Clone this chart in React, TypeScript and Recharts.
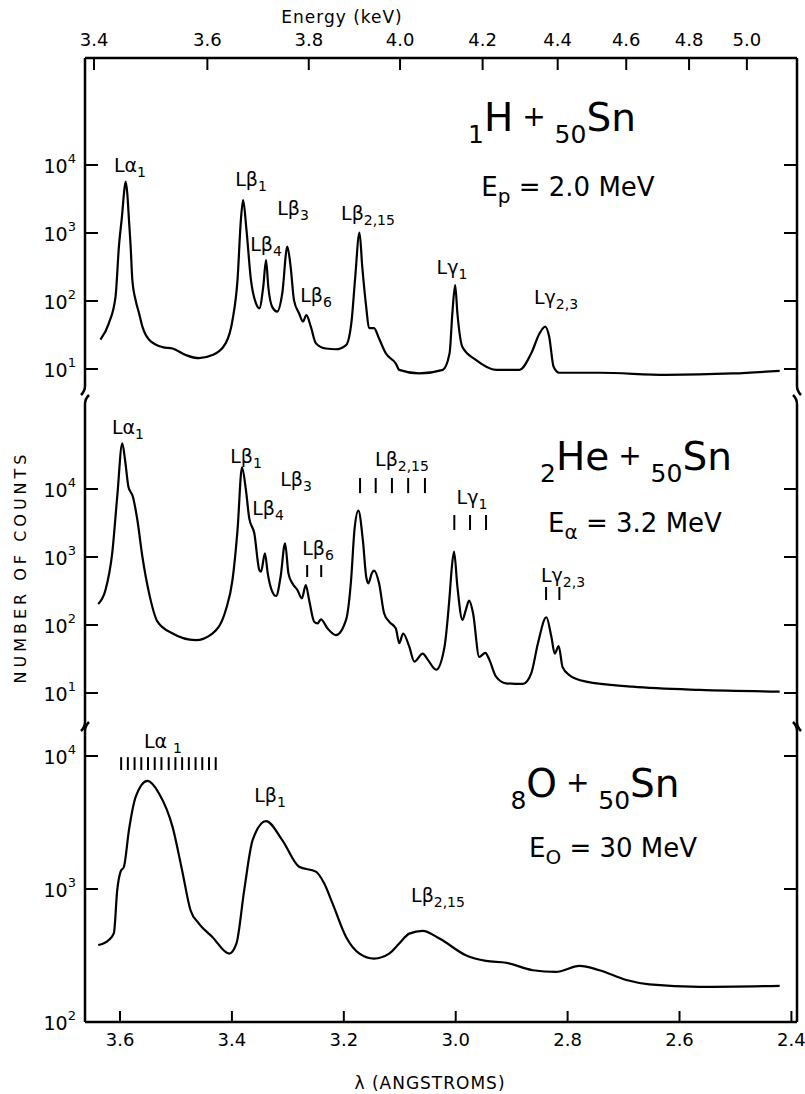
import React from "react";
import { LineChart, Line, XAxis, YAxis, ReferenceLine } from "recharts";

const FONT = "DejaVu Sans, sans-serif";
const HC = 12.398; // keV * angstrom

// x axis: wavelength in angstroms, drawn right-to-left
const lambdaDomain = [2.39, 3.6626];
const lambdaTicks = [3.6, 3.4, 3.2, 3.0, 2.8, 2.6, 2.4];
const energyTicks = [3.4, 3.6, 3.8, 4.0, 4.2, 4.4, 4.6, 4.8, 5.0];
const decadeTicks = [10, 100, 1000, 10000];
const oDecadeTicks = [100, 1000, 10000];

// 1H + 50Sn, Ep = 2.0 MeV
const hLambda = [3.635, 3.62, 3.608, 3.602, 3.596, 3.593, 3.59, 3.587, 3.584, 3.581, 3.578, 3.572, 3.566, 3.56, 3.548, 3.524, 3.506, 3.482, 3.459, 3.435, 3.411, 3.399, 3.39, 3.384, 3.38, 3.374, 3.366, 3.357, 3.351, 3.344, 3.339, 3.335, 3.328, 3.319, 3.31, 3.301, 3.295, 3.289, 3.28, 3.273, 3.267, 3.259, 3.25, 3.232, 3.214, 3.196, 3.186, 3.18, 3.172, 3.167, 3.16, 3.155, 3.146, 3.137, 3.125, 3.107, 3.101, 3.065, 3.023, 3.011, 3.006, 3.001, 2.997, 2.988, 2.964, 2.928, 2.886, 2.865, 2.85, 2.84, 2.833, 2.825, 2.815, 2.743, 2.624, 2.505, 2.421];
const hCounts = [27, 47, 116, 630, 1950, 3800, 5700, 3800, 1550, 630, 204, 102, 66, 42, 27, 21, 20, 16, 14.4, 16, 24, 52, 204, 1550, 3050, 1110, 204, 92, 78, 162, 400, 162, 82, 70, 130, 630, 316, 102, 66, 50, 62, 42, 24, 20, 19.5, 22.5, 52, 204, 1010, 316, 82, 40, 40, 28, 17, 12, 9.7, 8.6, 9.7, 17, 66, 172, 66, 21, 13.6, 9.7, 9.7, 17, 33.5, 42, 30, 10.8, 8.8, 8.8, 8.2, 8.6, 9.4];

// 2He + 50Sn, Ea = 3.2 MeV
const heLambda = [3.639, 3.626, 3.614, 3.605, 3.596, 3.591, 3.585, 3.577, 3.569, 3.56, 3.548, 3.533, 3.506, 3.465, 3.435, 3.411, 3.399, 3.39, 3.382, 3.375, 3.369, 3.36, 3.351, 3.348, 3.341, 3.336, 3.329, 3.321, 3.313, 3.305, 3.299, 3.292, 3.283, 3.275, 3.268, 3.262, 3.253, 3.247, 3.241, 3.229, 3.214, 3.196, 3.187, 3.181, 3.174, 3.166, 3.16, 3.156, 3.15, 3.146, 3.137, 3.128, 3.119, 3.107, 3.101, 3.094, 3.083, 3.074, 3.059, 3.05, 3.035, 3.02, 3.011, 3.007, 3.003, 2.997, 2.988, 2.982, 2.976, 2.969, 2.958, 2.947, 2.94, 2.928, 2.91, 2.88, 2.865, 2.853, 2.838, 2.829, 2.823, 2.816, 2.809, 2.797, 2.767, 2.684, 2.564, 2.421];
const heCounts = [204, 327, 1130, 7700, 47000, 26700, 10800, 7700, 3500, 1010, 292, 112, 75, 60, 75, 166, 459, 2490, 20800, 9700, 3700, 2230, 644, 608, 1130, 575, 327, 267, 513, 1590, 575, 410, 327, 247, 387, 233, 112, 106, 121, 89, 71, 119, 459, 2490, 4800, 1780, 513, 410, 575, 630, 410, 149, 112, 89, 54, 75, 48, 29, 38, 31, 22, 48, 261, 700, 1200, 366, 119, 166, 228, 149, 34, 39, 31, 17.4, 13.9, 13.6, 19.5, 54, 130, 67, 38, 49, 24, 18.4, 14.7, 12.4, 11.1, 10.5];

// 8O + 50Sn, Eo = 30 MeV
const oLambda = [3.639, 3.62, 3.611, 3.605, 3.599, 3.593, 3.584, 3.572, 3.551, 3.53, 3.506, 3.489, 3.474, 3.459, 3.435, 3.405, 3.392, 3.378, 3.363, 3.339, 3.31, 3.28, 3.25, 3.235, 3.22, 3.196, 3.172, 3.146, 3.119, 3.101, 3.083, 3.059, 3.029, 2.982, 2.946, 2.91, 2.862, 2.821, 2.779, 2.743, 2.695, 2.654, 2.564, 2.421];
const oCounts = [379, 414, 465, 980, 1350, 1470, 2780, 4920, 6500, 5210, 2920, 1380, 692, 550, 436, 327, 389, 982, 2330, 3240, 2330, 1470, 1350, 1100, 776, 436, 327, 300, 327, 389, 462, 484, 424, 318, 288, 279, 245, 238, 264, 245, 207, 192, 184, 187];

// line-position markers (wavelength) and their count range [top, bottom]
const heLb6Marks = [3.2655, 3.2404];
const heLb6Span = [762, 508];
const heLb215Marks = [3.171, 3.143, 3.114, 3.085, 3.055];
const heLb215Span = [14500, 8700];
const heLg1Marks = [3.0025, 2.9744, 2.9458];
const heLg1Span = [4150, 2500];
const heLg23Marks = [2.8385, 2.8147];
const heLg23Span = [362, 233];
const oLa1Marks = [3.598, 3.586, 3.574, 3.562, 3.55, 3.538, 3.526, 3.513, 3.501, 3.489, 3.477, 3.465, 3.453, 3.441, 3.429];
const oLa1Span = [9800, 7850];

const toRows = (ls: number[], cs: number[]) => ls.map((l, i) => ({ l, c: cs[i] }));
const hRows = toRows(hLambda, hCounts);
const heRows = toRows(heLambda, heCounts);
const oRows = toRows(oLambda, oCounts);

const AXIS = { stroke: "#000", strokeWidth: 2.5 };

const LeftTick = (props: any) => {
  const { x, y, payload } = props;
  const exp = Math.round(Math.log10(payload.value));
  return (
    <g>
      <line x1={x} y1={y} x2={x + 13} y2={y} stroke="#000" strokeWidth={2} />
      <text x={x - 9} y={y + 8} textAnchor="end" fontSize={19} fontFamily={FONT} fill="#000">
        10
        <tspan dy={-10} fontSize={13}>
          {exp}
        </tspan>
      </text>
    </g>
  );
};

const RightTick = (props: any) => {
  const { x, y } = props;
  return <line x1={x - 13} y1={y} x2={x} y2={y} stroke="#000" strokeWidth={2} />;
};

const BottomTick = (props: any) => {
  const { x, y, payload } = props;
  return (
    <g>
      <line x1={x} y1={y} x2={x} y2={y - 11} stroke="#000" strokeWidth={2} />
      <text x={x} y={y + 24} textAnchor="middle" fontSize={18} fontFamily={FONT} fill="#000">
        {Number(payload.value).toFixed(1)}
      </text>
    </g>
  );
};

const TopTick = (props: any) => {
  const { x, y, payload } = props;
  return (
    <g>
      <line x1={x} y1={y} x2={x} y2={y + 12} stroke="#000" strokeWidth={2} />
      <text x={x} y={y - 12} textAnchor="middle" fontSize={18} fontFamily={FONT} fill="#000">
        {(HC / payload.value).toFixed(1)}
      </text>
    </g>
  );
};

const yAxes = (domain: number[], ticks: number[]) => [
  <YAxis key="yl" yAxisId="l" orientation="left" width={85} scale="log" type="number" domain={domain} allowDataOverflow ticks={ticks} interval={0} tick={LeftTick} tickLine={false} tickSize={0} tickMargin={0} axisLine={AXIS} />,
  <YAxis key="yr" yAxisId="r" orientation="right" width={8} scale="log" type="number" domain={domain} allowDataOverflow ticks={ticks} interval={0} tick={RightTick} tickLine={false} tickSize={0} tickMargin={0} axisLine={AXIS} />,
];

const marks = (ls: number[], span: number[], key: string) =>
  ls.map((l, i) => (
    <ReferenceLine
      key={`${key}-${i}`}
      yAxisId="l"
      segment={[{ x: l, y: span[0] }, { x: l, y: span[1] }]}
      stroke="#000"
      strokeWidth={2}
    />
  ));

const spectrum = (
  <Line yAxisId="l" type="monotone" dataKey="c" stroke="#000" strokeWidth={2.2} dot={false} isAnimationActive={false} />
);

const Lbl = ({ x, y, main, sub }: { x: number; y: number; main: string; sub: string }) => (
  <text x={x} y={y} textAnchor="middle" fontSize={19} fontFamily={FONT} fill="#000">
    {main}
    <tspan fontSize={14} dy={5}>
      {sub}
    </tspan>
  </text>
);

const Title = ({ x, y, a, an, b }: { x: number; y: number; a: string; an: string; b: string }) => (
  <text x={x} y={y} textAnchor="middle" fontSize={39} fontFamily={FONT} fill="#000">
    <tspan fontSize={25} dy={12}>{an}</tspan>
    <tspan dy={-12}>{a}</tspan>
    <tspan fontSize={28} dy={-5}>{" + "}</tspan>
    <tspan fontSize={25} dy={17}>50</tspan>
    <tspan dy={-12}>{b}</tspan>
  </text>
);

const Energy = ({ x, y, sub, val }: { x: number; y: number; sub: string; val: string }) => (
  <text x={x} y={y} textAnchor="middle" fontSize={26} fontFamily={FONT} fill="#000">
    E
    <tspan fontSize={20} dy={7}>{sub}</tspan>
    <tspan dy={-7}>{` = ${val} MeV`}</tspan>
  </text>
);

const brk = (x: number, yUp: number, yDown: number, dir: number) => (
  <g key={`${x}-${yUp}`} fill="none" stroke="#000" strokeWidth={2.5}>
    <path d={`M${x} ${yUp} q0 5 ${-4 * dir} 9`} />
    <path d={`M${x} ${yDown} q0 -5 ${4 * dir} -9`} />
  </g>
);

export default function App() {
  return (
    <div style={{ position: "absolute", left: 0, top: 0, width: 805, height: 1094, background: "#fff" }}>
      <div style={{ position: "absolute", left: 0, top: 0 }}>
        <LineChart width={805} height={390} data={hRows} margin={{ top: 28, right: 0, bottom: 4, left: 0 }}>
          <XAxis dataKey="l" type="number" orientation="top" height={30} domain={lambdaDomain} reversed allowDataOverflow ticks={energyTicks.map((e) => HC / e)} interval={0} tick={TopTick} tickLine={false} tickSize={0} tickMargin={0} axisLine={AXIS} />
          {yAxes([5.62, 375000], decadeTicks)}
          {spectrum}
        </LineChart>
      </div>
      <div style={{ position: "absolute", left: 0, top: 402 }}>
        <LineChart width={805} height={322} data={heRows} margin={{ top: 2, right: 0, bottom: 2, left: 0 }}>
          <XAxis dataKey="l" type="number" domain={lambdaDomain} reversed allowDataOverflow hide />
          {yAxes([3.75, 177800], decadeTicks)}
          {marks(heLb6Marks, heLb6Span, "b6")}
          {marks(heLb215Marks, heLb215Span, "b215")}
          {marks(heLg1Marks, heLg1Span, "g1")}
          {marks(heLg23Marks, heLg23Span, "g23")}
          {spectrum}
        </LineChart>
      </div>
      <div style={{ position: "absolute", left: 0, top: 729 }}>
        <LineChart width={805} height={365} data={oRows} margin={{ top: 2, right: 0, bottom: 32, left: 0 }}>
          <XAxis dataKey="l" type="number" height={40} domain={lambdaDomain} reversed allowDataOverflow ticks={lambdaTicks} interval={0} tick={BottomTick} tickLine={false} tickSize={0} tickMargin={0} axisLine={AXIS} />
          {yAxes([100, 15420], oDecadeTicks)}
          {marks(oLa1Marks, oLa1Span, "a1")}
          {spectrum}
        </LineChart>
      </div>

      <svg width={805} height={1094} style={{ position: "absolute", left: 0, top: 0, pointerEvents: "none" }}>
        <text x={342} y={23} textAnchor="middle" fontSize={17} fontFamily={FONT} letterSpacing={1}>
          Energy  (keV)
        </text>
        <text x={430} y={1089} textAnchor="middle" fontSize={17} fontFamily={FONT} letterSpacing={1}>
          λ (ANGSTROMS)
        </text>
        <text x={26} y={567} transform="rotate(-90 26 567)" textAnchor="middle" fontSize={16} fontFamily={FONT} letterSpacing={4}>
          NUMBER OF COUNTS
        </text>

        {brk(85, 386, 404, 1)}
        {brk(797, 386, 404, -1)}
        {brk(85, 722, 731, 1)}
        {brk(797, 722, 731, -1)}

        <Lbl x={130} y={172} main="Lα" sub="1" />
        <Lbl x={251} y={186} main="Lβ" sub="1" />
        <Lbl x={266} y={251} main="Lβ" sub="4" />
        <Lbl x={293} y={215} main="Lβ" sub="3" />
        <Lbl x={316} y={302} main="Lβ" sub="6" />
        <Lbl x={368} y={220} main="Lβ" sub="2,15" />
        <Lbl x={452} y={274} main="Lγ" sub="1" />
        <Lbl x={556} y={304} main="Lγ" sub="2,3" />
        <Title x={552} y={131} an="1" a="H" b="Sn" />
        <Energy x={568} y={196} sub="p" val="2.0" />

        <Lbl x={128} y={434} main="Lα" sub="1" />
        <Lbl x={246} y={463} main="Lβ" sub="1" />
        <Lbl x={296} y={486} main="Lβ" sub="3" />
        <Lbl x={268} y={515} main="Lβ" sub="4" />
        <Lbl x={318} y={555} main="Lβ" sub="6" />
        <Lbl x={402} y={466} main="Lβ" sub="2,15" />
        <Lbl x={472} y={504} main="Lγ" sub="1" />
        <Lbl x={563} y={582} main="Lγ" sub="2,3" />
        <Title x={636} y={470} an="2" a="He" b="Sn" />
        <Energy x={635} y={532} sub="α" val="3.2" />

        <Lbl x={163} y={748} main="Lα " sub="1" />
        <Lbl x={270} y={802} main="Lβ" sub="1" />
        <Lbl x={438} y={902} main="Lβ" sub="2,15" />
        <Title x={595} y={797} an="8" a="O" b="Sn" />
        <Energy x={613} y={857} sub="O" val="30" />
      </svg>
    </div>
  );
}
